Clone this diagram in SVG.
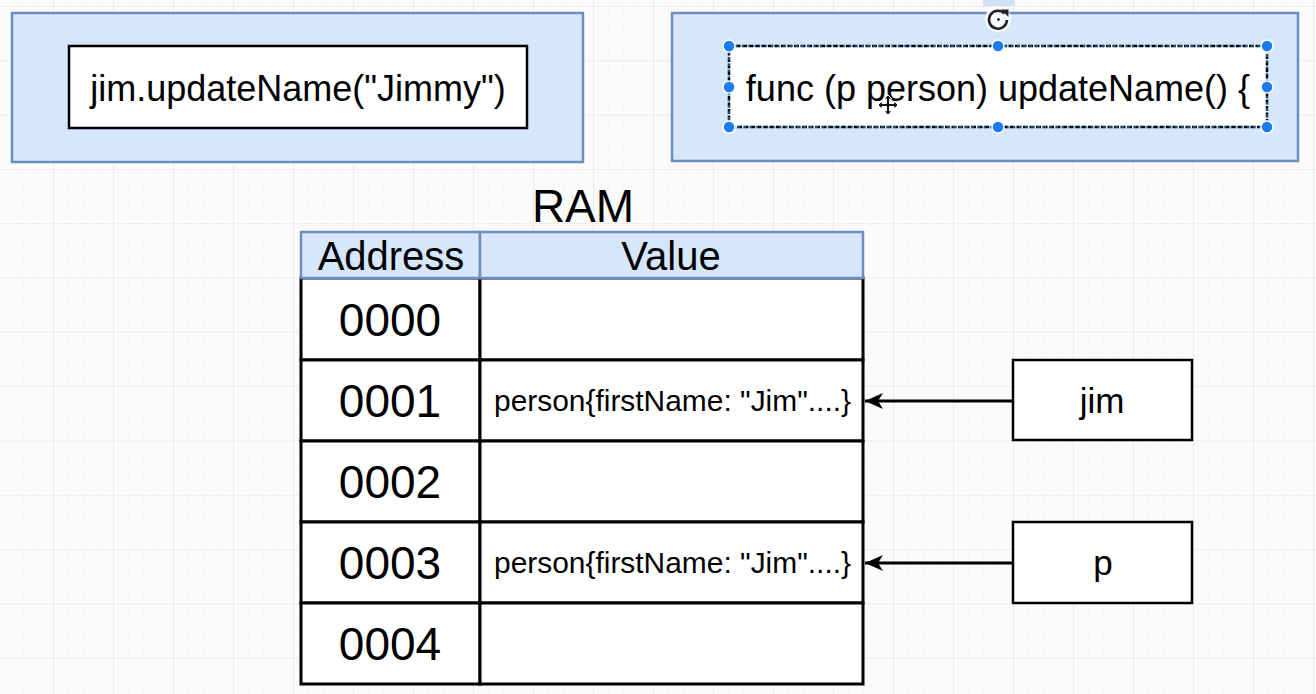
<svg xmlns="http://www.w3.org/2000/svg" width="1316" height="694" viewBox="0 0 1316 694">
<defs>
<pattern id="minor" x="53" y="6" width="15" height="13.575" patternUnits="userSpaceOnUse">
<path d="M0 0H15M0 0V13.575" fill="none" stroke="#f1f1f1" stroke-width="1"/>
</pattern>
<pattern id="major" x="53" y="6" width="60" height="54.3" patternUnits="userSpaceOnUse">
<path d="M0 0H60M0 0V54.3" fill="none" stroke="#e3e3e3" stroke-width="1.2"/>
</pattern>
<marker id="arrow" viewBox="0 0 20 20" refX="19" refY="10" markerWidth="20" markerHeight="20" markerUnits="userSpaceOnUse" orient="auto">
<path d="M19 10 L1 2 L6 10 L1 18 Z" fill="#000"/>
</marker>
<style>
text{font-family:"Liberation Sans",Arial,sans-serif;fill:#000}
.outer{fill:#d6e6fc;stroke:#6c8ebf;stroke-width:2.5}
.box{fill:#fff;stroke:#000;stroke-width:2.5}
.cell{fill:#fff;stroke:#000;stroke-width:3}
.hdr{fill:#d6e6fc;stroke:#6c8ebf;stroke-width:2.5}
.addr{font-size:46px;text-anchor:middle}
.val{font-size:30px}
.handle{fill:#1a7cf0;stroke:#fff;stroke-width:1.5}
.conn{stroke:#000;stroke-width:3;fill:none}
</style>
</defs>
<rect width="1316" height="694" fill="#fbfbfb"/>
<rect width="1316" height="694" fill="url(#minor)"/>
<rect width="1316" height="694" fill="url(#major)"/>

<g id="caller">
<rect class="outer" x="12" y="13" width="571" height="149"/>
<rect class="box" x="69" y="46" width="458" height="82"/>
<text x="298" y="101" font-size="36" text-anchor="middle">jim.updateName("Jimmy")</text>
</g>

<g id="func">
<rect class="outer" x="672" y="13" width="626" height="148"/>
<rect x="983" y="0" width="32" height="6" fill="#cfe3f7"/>
<rect x="729" y="46" width="538" height="81" fill="#fff" stroke="#000" stroke-width="2.5" stroke-dasharray="5 1.5"/>
<rect x="729" y="46" width="538" height="81" fill="none" stroke="#29a0e6" stroke-width="1" stroke-dasharray="3 3"/>
<text x="998" y="101" font-size="36" text-anchor="middle">func (p person) updateName() {</text>
<circle class="handle" cx="729" cy="46" r="6"/>
<circle class="handle" cx="998" cy="46" r="6"/>
<circle class="handle" cx="1267" cy="46" r="6"/>
<circle class="handle" cx="729" cy="87" r="6"/>
<circle class="handle" cx="1267" cy="87" r="6"/>
<circle class="handle" cx="729" cy="127" r="6"/>
<circle class="handle" cx="998" cy="127" r="6"/>
<circle class="handle" cx="1267" cy="127" r="6"/>
<circle cx="998" cy="19" r="13" fill="#fff" opacity="0.85"/>
<path d="M1004.5 13.5 A9 9 0 1 0 1007 20" fill="none" stroke="#222" stroke-width="2.6"/>
<path d="M1001 9.5 L1008.5 9.5 L1008.5 17 Z" fill="#222"/>
<circle cx="998.5" cy="19.5" r="1.4" fill="#222"/>
<path d="M888 95 L892 99 L889.5 99 L889.5 103.5 L894 103.5 L894 101 L898 105 L894 109 L894 106.5 L889.5 106.5 L889.5 111 L892 111 L888 115 L884 111 L886.5 111 L886.5 106.5 L882 106.5 L882 109 L878 105 L882 101 L882 103.5 L886.5 103.5 L886.5 99 L884 99 Z" fill="#111" stroke="#fff" stroke-width="1"/>
</g>

<g id="ram">
<text x="583" y="222" font-size="46" text-anchor="middle">RAM</text>
<rect class="cell" x="301" y="278" width="179" height="82"/>
<rect class="cell" x="480" y="278" width="383" height="82"/>
<rect class="cell" x="301" y="360" width="179" height="81"/>
<rect class="cell" x="480" y="360" width="383" height="81"/>
<rect class="cell" x="301" y="441" width="179" height="81"/>
<rect class="cell" x="480" y="441" width="383" height="81"/>
<rect class="cell" x="301" y="522" width="179" height="81"/>
<rect class="cell" x="480" y="522" width="383" height="81"/>
<rect class="cell" x="301" y="603" width="179" height="81"/>
<rect class="cell" x="480" y="603" width="383" height="81"/>
<rect class="hdr" x="301" y="232" width="179" height="46"/>
<rect class="hdr" x="480" y="232" width="383" height="46"/>
<text x="391" y="270" font-size="40" text-anchor="middle">Address</text>
<text x="671" y="270" font-size="40" text-anchor="middle">Value</text>
<text class="addr" x="390" y="336">0000</text>
<text class="addr" x="390" y="417">0001</text>
<text class="addr" x="390" y="498">0002</text>
<text class="addr" x="390" y="579">0003</text>
<text class="addr" x="390" y="660">0004</text>
<text class="val" x="494" y="411" textLength="357" lengthAdjust="spacingAndGlyphs">person{firstName: "Jim"....}</text>
<text class="val" x="494" y="573" textLength="357" lengthAdjust="spacingAndGlyphs">person{firstName: "Jim"....}</text>
</g>

<g id="jim">
<rect class="box" x="1013" y="360" width="179" height="80"/>
<text x="1102" y="413" font-size="35" text-anchor="middle">jim</text>
</g>

<g id="p">
<rect class="box" x="1013" y="522" width="179" height="81"/>
<text x="1103" y="575" font-size="35" text-anchor="middle">p</text>
</g>

<g id="connectors">
<line class="conn" x1="1013" y1="401" x2="865" y2="401" marker-end="url(#arrow)"/>
<line class="conn" x1="1013" y1="563" x2="865" y2="563" marker-end="url(#arrow)"/>
</g>
</svg>
